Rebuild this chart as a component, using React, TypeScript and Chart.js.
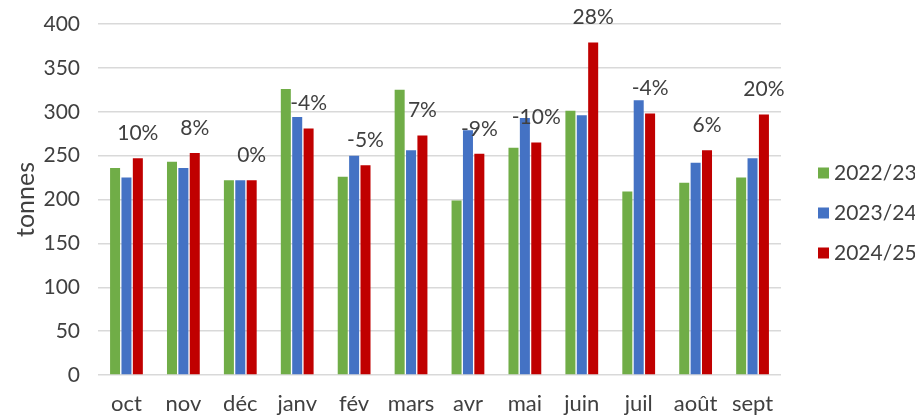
import React, { useEffect, useRef } from "react";
import { Chart, registerables } from "chart.js";

Chart.register(...registerables);

const months = ["oct", "nov", "déc", "janv", "fév", "mars", "avr", "mai", "juin", "juil", "août", "sept"];
const seriesNames = ["2022/23", "2023/24", "2024/25"];
const values2223 = [236, 243, 222, 326, 226, 325, 199, 259, 301, 209, 219, 225];
const values2324 = [225, 236, 222, 294, 250, 256, 279, 293, 296, 313, 242, 247];
const values2425 = [247, 253, 222, 281, 239, 273, 252, 265, 379, 298, 256, 297];
const changeLabels = ["10%", "8%", "0%", "-4%", "-5%", "7%", "-9%", "-10%", "28%", "-4%", "6%", "20%"];
const colors = ["#70AD47", "#4472C4", "#C00000"];

const FONT = "Lato, 'DejaVu Sans', sans-serif";
const TEXT = "#404040";

const changePlugin = {
  id: "changeLabels",
  afterDatasetsDraw(chart: any) {
    const meta = chart.getDatasetMeta(2);
    const ctx = chart.ctx;
    ctx.save();
    ctx.font = `21px ${FONT}`;
    ctx.fillStyle = TEXT;
    ctx.textAlign = "center";
    ctx.textBaseline = "middle";
    meta.data.forEach((el: any, i: number) => {
      ctx.fillText(changeLabels[i], el.x, el.y - 25);
    });
    ctx.restore();
  },
};

const legendPlugin = {
  id: "customLegend",
  afterDraw(chart: any) {
    const ctx = chart.ctx;
    ctx.save();
    ctx.font = `21px ${FONT}`;
    ctx.textBaseline = "middle";
    ctx.textAlign = "left";
    const ys = [173, 213, 253];
    chart.data.datasets.forEach((ds: any, i: number) => {
      ctx.fillStyle = ds.backgroundColor;
      ctx.fillRect(818, ys[i] - 5.5, 11, 11);
      ctx.fillStyle = TEXT;
      ctx.fillText(ds.label, 834, ys[i]);
    });
    ctx.restore();
  },
};

export default function App() {
  const ref = useRef<HTMLCanvasElement>(null);
  useEffect(() => {
    if (!ref.current) return;
    const chart = new Chart(ref.current, {
      type: "bar",
      data: {
        labels: months,
        datasets: [values2223, values2324, values2425].map((d, i) => ({
          label: seriesNames[i],
          data: d,
          backgroundColor: colors[i],
          borderWidth: 0,
          categoryPercentage: 0.6,
          barPercentage: 0.88,
        })),
      },
      options: {
        animation: false,
        responsive: true,
        maintainAspectRatio: false,
        layout: { padding: { left: 0, right: 134, top: 24, bottom: 0 } },
        plugins: {
          legend: { display: false },
          tooltip: { enabled: false },
        },
        scales: {
          x: {
            grid: { display: false, drawTicks: false },
            border: { display: false },
            ticks: { color: TEXT, font: { family: FONT, size: 22 }, padding: 16, maxRotation: 0, autoSkip: false },
            afterFit: (s: any) => { s.height = 40; s.paddingLeft = 0; s.paddingRight = 0; },
          },
          y: {
            min: 0,
            max: 400,
            ticks: { stepSize: 50, color: TEXT, font: { family: FONT, size: 21 }, padding: 18 },
            grid: { color: "#d9d9d9", lineWidth: 1.5, drawTicks: false },
            border: { display: false },
            title: {
              display: true,
              text: "tonnes",
              color: TEXT,
              font: { family: FONT, size: 25 },
              padding: { top: 11, bottom: 0 },
            },
            afterFit: (s: any) => { s.width = 98; s.paddingTop = 0; s.paddingBottom = 0; },
          },
        },
      },
      plugins: [changePlugin, legendPlugin],
    });
    return () => chart.destroy();
  }, []);
  return (
    <div style={{ position: "fixed", left: 0, top: 0, width: 915, height: 415, background: "#fff" }}>
      <canvas ref={ref} />
    </div>
  );
}
